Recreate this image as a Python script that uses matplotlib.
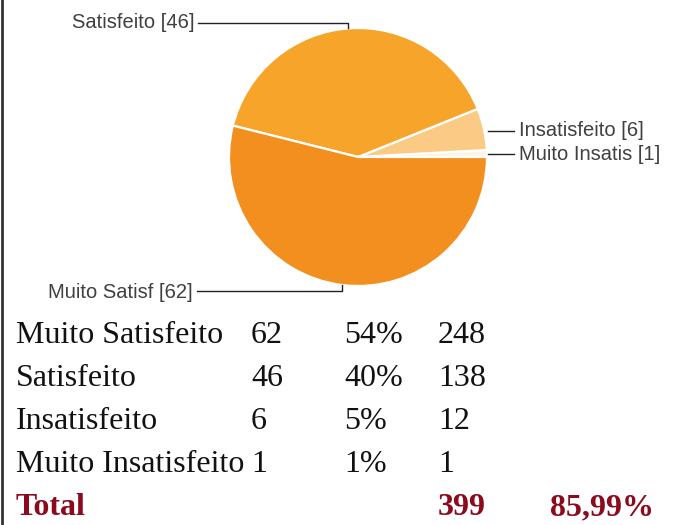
import matplotlib
matplotlib.use("Agg")
import matplotlib.pyplot as plt
import numpy as np
from matplotlib.lines import Line2D

# ---- data ----
categories = ["Muito Satisfeito", "Satisfeito", "Insatisfeito", "Muito Insatisfeito"]
short_labels = ["Muito Satisf", "Satisfeito", "Insatisfeito", "Muito Insatis"]
counts = [62, 46, 6, 1]
percents = ["54%", "40%", "5%", "1%"]
points = [248, 138, 12, 1]
total_label = "Total"
total_points = 399
total_pct = "85,99%"

colors = ["#F28F1F", "#F7A52A", "#FBCB86", "#FFF4E4"]

W, H = 674, 525
fig = plt.figure(figsize=(W / 100, H / 100), dpi=100)
fig.patch.set_facecolor("white")

def fx(x):
    return x / W

def fy(y):
    return 1 - y / H

# ---- pie ----
cx, cy, r = 358, 157, 129
ax = fig.add_axes([fx(cx - r), fy(cy + r), 2 * r / W, 2 * r / H])
# order counter-clockwise from 3 o'clock: Muito Insatis, Insatisfeito, Satisfeito, Muito Satisf
order = [3, 2, 1, 0]
ax.pie([counts[i] for i in order], colors=[colors[i] for i in order],
       startangle=0, counterclock=True, radius=1,
       wedgeprops=dict(edgecolor="white", linewidth=1.6))
ax.set_aspect("auto")
ax.set_xlim(-1, 1)
ax.set_ylim(-1, 1)
ax.axis("off")

def d(px, py):
    return (px - cx) / r, (cy - py) / r

lab_font = dict(family="Liberation Sans", size=14.5, color="#404040")
line_kw = dict(color="#222222", lw=1.0, clip_on=False)

# Satisfeito (top-left)
x0, y0 = d(198, 23)
x1, _ = d(348, 23)
ax.add_line(Line2D([x0, x1, x1], [y0, y0, np.sqrt(1 - x1 ** 2)], **line_kw))
tx, ty = d(194, 22)
ax.text(tx, ty, f"{short_labels[1]} [{counts[1]}]", ha="right", va="center", **lab_font)

# Muito Satisf (bottom-left)
x0, y0 = d(197, 291)
x1, _ = d(342, 291)
ax.add_line(Line2D([x0, x1, x1], [y0, y0, -np.sqrt(1 - x1 ** 2)], **line_kw))
tx, ty = d(193, 292)
ax.text(tx, ty, f"{short_labels[0]} [{counts[0]}]", ha="right", va="center", **lab_font)

# Insatisfeito / Muito Insatis (right)
for idx, py in [(2, 131), (3, 154)]:
    x0, y0 = d(488, py)
    x1, _ = d(514, py)
    ax.add_line(Line2D([x0, x1], [y0, y0], **line_kw))
    tx, _ = d(519, py)
    ax.text(tx, y0, f"{short_labels[idx]} [{counts[idx]}]", ha="left", va="center", **lab_font)

# ---- table ----
col_x = [16, 251, 344, 438, 550]
row_y = [343, 386, 429, 472, 515]
tab_font = dict(family="Liberation Serif", size=23, color="#111111", va="baseline")
for i, cat in enumerate(categories):
    y = row_y[i]
    fig.text(fx(col_x[0]), fy(y), cat, **tab_font)
    fig.text(fx(col_x[1]), fy(y), str(counts[i]), **tab_font)
    fig.text(fx(col_x[2]), fy(y), percents[i], **tab_font)
    fig.text(fx(col_x[3]), fy(y), str(points[i]), **tab_font)

tot_font = dict(family="Liberation Serif", size=23, color="#8B0A1E",
                weight="bold", va="baseline")
fig.text(fx(col_x[0]), fy(row_y[4]), total_label, **tot_font)
fig.text(fx(col_x[3]), fy(row_y[4]), str(total_points), **tot_font)
fig.text(fx(col_x[4]), fy(row_y[4]), total_pct, **tot_font)

# left border line
fig.add_artist(Line2D([fx(1.5), fx(1.5)], [0, 1], color="#333333", lw=2.0))

fig.savefig("out.png", dpi=100, facecolor="white")
